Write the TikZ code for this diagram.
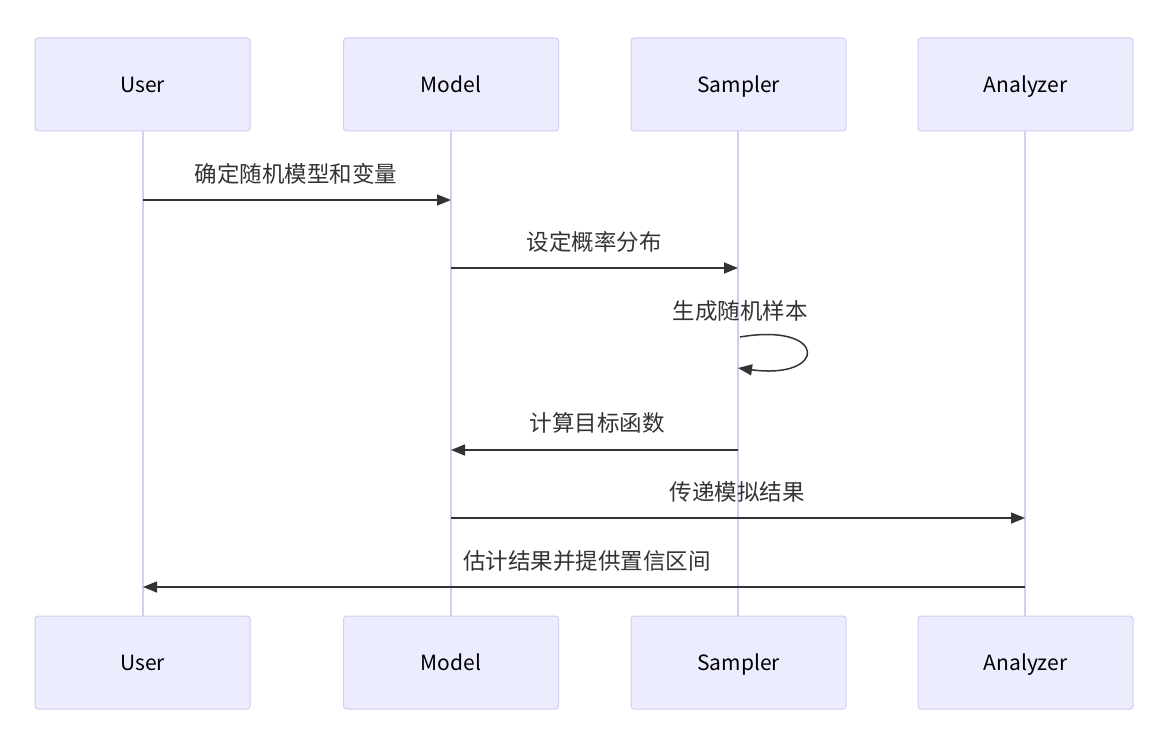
\documentclass[tikz,border=0pt]{standalone}
\usepackage{fontspec}
\setmainfont{Noto Sans CJK SC}
\usetikzlibrary{arrows.meta}
\definecolor{actorfill}{HTML}{ECECFF}
\definecolor{actorline}{HTML}{D5CCF2}
\definecolor{msgline}{HTML}{333333}
\tikzset{
  actor/.style={draw=actorline, fill=actorfill, line width=1pt, rounded corners=3pt,
    minimum width=215pt, minimum height=93pt, inner sep=0pt,
    text height=16pt, text depth=0pt,
    font=\fontsize{21pt}{25pt}\selectfont, text=black},
  lifeline/.style={draw=actorline, line width=2pt},
  msg/.style={draw=msgline, line width=1.5pt, -{Triangle[length=14pt,width=11pt]}},
  msglabel/.style={font=\fontsize{22.5pt}{26pt}\selectfont, text=msgline, inner sep=0pt}
}
\begin{document}
\begin{tikzpicture}[x=1pt,y=-1pt]
\useasboundingbox (0,0) rectangle (1156,733);
\fill[white] (0,0) rectangle (1156,733);

% lifelines
\coordinate (uT) at (143,131); \coordinate (uB) at (143,616);
\coordinate (mT) at (451,131); \coordinate (mB) at (451,616);
\coordinate (sT) at (738,131); \coordinate (sB) at (738,616);
\coordinate (aT) at (1025,131); \coordinate (aB) at (1025,616);
\draw[lifeline] (uT) -- (uB);
\draw[lifeline] (mT) -- (mB);
\draw[lifeline] (sT) -- (sB);
\draw[lifeline] (aT) -- (aB);

% actors, top and bottom
\node[actor] (userTop) at (142.5,84.5) {User};
\node[actor] (modelTop) at (451,84.5) {Model};
\node[actor] (samplerTop) at (738.5,84.5) {Sampler};
\node[actor] (analyzerTop) at (1025.5,84.5) {Analyzer};
\node[actor] (userBot) at (142.5,662.5) {User};
\node[actor] (modelBot) at (451,662.5) {Model};
\node[actor] (samplerBot) at (738.5,662.5) {Sampler};
\node[actor] (analyzerBot) at (1025.5,662.5) {Analyzer};

% message anchor points on the lifelines
\coordinate (m1a) at (143,200); \coordinate (m1b) at (451,200);
\coordinate (m2a) at (451,268); \coordinate (m2b) at (738,268);
\coordinate (m3a) at (740,337); \coordinate (m3b) at (738,368);
\coordinate (m4a) at (738,450); \coordinate (m4b) at (451,450);
\coordinate (m5a) at (451,518); \coordinate (m5b) at (1025,518);
\coordinate (m6a) at (1025,587); \coordinate (m6b) at (143,587);

% messages
\draw[msg] (m1a) -- (m1b);
\node[msglabel] (t1) at (296,174) {确定随机模型和变量};
\draw[msg] (m2a) -- (m2b);
\node[msglabel] (t2) at (594,242) {设定概率分布};
\draw[msg] (m3a) .. controls (828,322) and (828,380) .. (m3b);
\node[msglabel] (t3) at (740,311) {生成随机样本};
\draw[msg] (m4a) -- (m4b);
\node[msglabel] (t4) at (597,423) {计算目标函数};
\draw[msg] (m5a) -- (m5b);
\node[msglabel] (t5) at (737,492) {传递模拟结果};
\draw[msg] (m6a) -- (m6b);
\node[msglabel] (t6) at (587,561) {估计结果并提供置信区间};
\end{tikzpicture}
\end{document}
